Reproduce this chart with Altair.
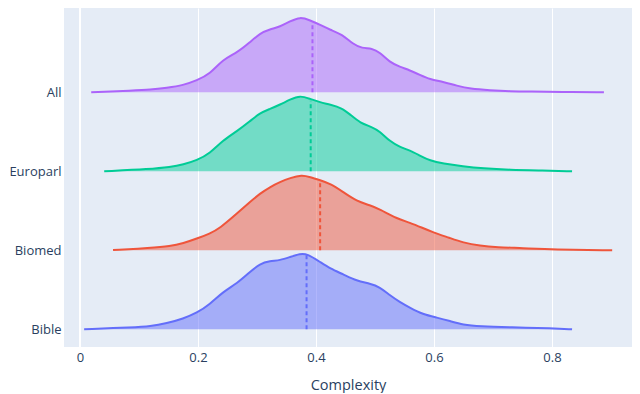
import altair as alt
import numpy as np
import pandas as pd

# ---- data ----
series_names = ["Bible", "Biomed", "Europarl", "All"]
series_colors = ["#636EFA", "#EF553B", "#00CC96", "#AB63FA"]

all_x = [0.019, 0.090, 0.119, 0.147, 0.175, 0.198, 0.220, 0.242, 0.266, 0.288, 0.305, 0.322,
         0.339, 0.356, 0.373, 0.390, 0.407, 0.424, 0.444, 0.463, 0.478, 0.495, 0.508, 0.525,
         0.542, 0.559, 0.576, 0.593, 0.615, 0.639, 0.661, 0.695, 0.729, 0.763, 0.814, 0.888]
all_d = [0, 1.7, 2.5, 4.5, 7, 12, 18, 33, 39.5, 50, 59, 63,
         65.5, 71, 75.5, 72, 67.5, 62.5, 58, 48, 44, 44, 40, 30,
         25.5, 22, 17.5, 13, 10.5, 6.5, 3.5, 2, 1, 0.7, 0.3, 0]

europarl_x = [0.041, 0.119, 0.153, 0.175, 0.198, 0.220, 0.242, 0.266, 0.288, 0.305, 0.322,
              0.339, 0.356, 0.373, 0.390, 0.407, 0.424, 0.444, 0.458, 0.475, 0.495, 0.508,
              0.525, 0.542, 0.559, 0.576, 0.593, 0.615, 0.649, 0.683, 0.729, 0.780, 0.834]
europarl_d = [0, 2.3, 4.3, 6.7, 11, 17.7, 31, 40, 50, 58.3, 62.3,
              66.7, 71.7, 76, 72.3, 69, 66.7, 63.3, 56.7, 48.3, 44.3, 40,
              30, 24.3, 21, 15.7, 10.7, 7.7, 5, 3, 1.5, 0.8, 0]

biomed_x = [0.056, 0.119, 0.153, 0.175, 0.198, 0.220, 0.237, 0.266, 0.288, 0.305, 0.322,
            0.339, 0.356, 0.376, 0.390, 0.407, 0.424, 0.446, 0.469, 0.492, 0.508, 0.537,
            0.559, 0.581, 0.597, 0.627, 0.649, 0.678, 0.707, 0.750, 0.802, 0.902]
biomed_d = [0.3, 2.3, 4, 7, 11.7, 16.7, 22, 36.7, 48.3, 56.7, 63.3,
            68.3, 72.3, 75.5, 73.3, 70, 66.7, 58.3, 49, 45, 41, 31.7,
            27.7, 22.3, 18.3, 12.3, 7.7, 4.5, 3, 2.2, 0.7, 0]

bible_x = [0.007, 0.090, 0.119, 0.147, 0.175, 0.198, 0.220, 0.242, 0.266, 0.288, 0.305,
           0.322, 0.339, 0.356, 0.373, 0.385, 0.407, 0.424, 0.446, 0.469, 0.492, 0.508,
           0.525, 0.542, 0.559, 0.581, 0.605, 0.627, 0.649, 0.678, 0.729, 0.802, 0.834]
bible_d = [0, 2, 3, 6, 10.7, 16.3, 25, 37.3, 45.7, 57.3, 65.7,
           68.3, 69, 72.3, 75.5, 75.5, 67.3, 60.7, 55, 48.3, 45.7, 42.3,
           34, 27.3, 21.7, 15, 11.7, 8.3, 4.5, 3, 2, 1, 0]

medians = [0.384, 0.407, 0.391, 0.394]  # Bible, Biomed, Europarl, All

# ---- build tables ----
SCALE = 1 / 79.0
curves = [(bible_x, bible_d), (biomed_x, biomed_d), (europarl_x, europarl_d), (all_x, all_d)]
rows, med_rows = [], []
for i, (name, (xs, ds), med) in enumerate(zip(series_names, curves, medians)):
    for x, d in zip(xs, ds):
        rows.append({"series": name, "x": x, "base": i, "top": i + d * SCALE})
    med_rows.append({"series": name, "x": med, "base": i,
                     "top": i + float(np.interp(med, xs, ds)) * SCALE * 0.98})
df = pd.DataFrame(rows)
mdf = pd.DataFrame(med_rows)

FONT = "Open Sans"
TXT = "#2a3f5f"
label_expr = ("datum.value == 0 ? 'Bible' : datum.value == 1 ? 'Biomed' : "
              "datum.value == 2 ? 'Europarl' : 'All'")

xscale = alt.Scale(domain=[-0.02712, 0.93559], nice=False, zero=False)
yscale = alt.Scale(domain=[-0.224, 4.067], nice=False, zero=False)
color = alt.Color("series:N", scale=alt.Scale(domain=series_names, range=series_colors), legend=None)

xaxis = alt.Axis(values=[0, 0.2, 0.4, 0.6, 0.8], format=".1~f", grid=True, gridColor="white",
                 gridWidth=1, ticks=False, domain=False, labelPadding=4, labelFontSize=13,
                 labelFont=FONT, labelColor=TXT, title="Complexity", titleFont=FONT,
                 titleFontSize=14.5, titleFontWeight="normal", titleColor=TXT, titlePadding=14)
yaxis = alt.Axis(values=[0, 1, 2, 3], labelExpr=label_expr, ticks=False, domain=False,
                 grid=False, title=None, labelFontSize=13, labelFont=FONT, labelColor=TXT,
                 labelPadding=3)

zero = alt.Chart(pd.DataFrame({"x": [0]})).mark_rule(color="white", strokeWidth=2).encode(
    x=alt.X("x:Q", scale=xscale, axis=xaxis))

area = alt.Chart(df).mark_area(fillOpacity=0.5, interpolate="basis").encode(
    x=alt.X("x:Q", scale=xscale, axis=xaxis),
    y=alt.Y("top:Q", scale=yscale, axis=yaxis),
    y2="base:Q",
    color=color,
)
line = alt.Chart(df).mark_line(strokeWidth=2, interpolate="basis").encode(
    x=alt.X("x:Q", scale=xscale),
    y=alt.Y("top:Q", scale=yscale),
    color=color,
    detail="series:N",
)
med = alt.Chart(mdf).mark_rule(strokeWidth=2, strokeDash=[4, 3]).encode(
    x=alt.X("x:Q", scale=xscale),
    y=alt.Y("base:Q", scale=yscale),
    y2="top:Q",
    color=color,
)

chart = alt.layer(zero, area, line, med).properties(
    width=568, height=339,
    autosize=alt.AutoSizeParams(type="none"),
    padding={"left": 56, "top": 0, "right": 0, "bottom": 46},
    background="white",
).configure_view(fill="#E5ECF6", stroke=None)

chart.save("out.html", embed_options={"renderer": "svg", "actions": False})
